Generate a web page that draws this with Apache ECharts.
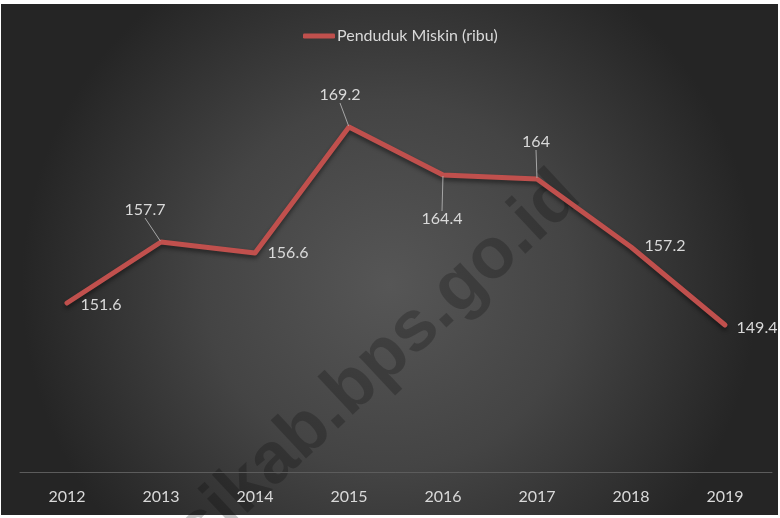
<!DOCTYPE html>
<html>
<head>
<meta charset="utf-8">
<script src="https://cdn.jsdelivr.net/npm/echarts@6/dist/echarts.min.js"></script>
<style>
html,body{margin:0;padding:0;background:#ffffff;}
#chart{width:780px;height:518px;}
</style>
</head>
<body>
<div id="chart"></div>
<script>
// ---- data ----
const years = ['2012','2013','2014','2015','2016','2017','2018','2019'];
const pendudukMiskin = [151.6, 157.7, 156.6, 169.2, 164.4, 164, 157.2, 149.4];
const seriesName = 'Penduduk Miskin (ribu)';
const watermarkText = 'sikab.bps.go.id';

// ---- label placement (style, not data) ----
const labelOffsets = [[34,2],[-16,-32],[33,0],[-9,-32],[-1,44],[-1,-37],[34,-1],[32,3]];
const labelLeader = [false,true,false,true,true,true,false,false];

const FONT = "Lato, sans-serif";
const chart = echarts.init(document.getElementById('chart'), null, {renderer:'canvas'});

const dataItems = pendudukMiskin.map((v,i)=>({
  value: v,
  labelLine: { show: labelLeader[i] }
}));

chart.setOption({
  backgroundColor: '#ffffff',
  animation: false,
  graphic: [
    {
      type: 'rect', z: -10, silent: true,
      shape: { x: 1, y: 4, width: 777, height: 511 },
      style: {
        fill: {
          type: 'radial', x: 0.5, y: 0.55, r: 0.72,
          colorStops: [
            { offset: 0, color: '#565656' },
            { offset: 0.5, color: '#444444' },
            { offset: 1, color: '#252525' }
          ]
        }
      }
    },
    {
      type: 'text', z: -5, silent: true,
      x: 378, y: 364,
      rotation: 43 * Math.PI / 180,
      style: {
        text: watermarkText,
        font: "bold 72px 'Liberation Sans', Arial, sans-serif",
        fill: 'rgba(0,0,0,0.22)',
        align: 'center',
        verticalAlign: 'middle'
      }
    }
  ],
  legend: {
    show: true,
    left: 298,
    top: 23,
    icon: 'roundRect',
    itemWidth: 32,
    itemHeight: 5,
    itemGap: 4,
    textStyle: { color: '#d9d9d9', fontSize: 16, fontFamily: FONT, padding: [0,0,0,-3] },
    data: [seriesName]
  },
  grid: { left: 20, right: 8, top: 19, bottom: 46, containLabel: false },
  xAxis: {
    type: 'category',
    data: years,
    boundaryGap: true,
    axisLine: { show: true, lineStyle: { color: '#5c5c5c', width: 1 } },
    axisTick: { show: false },
    axisLabel: { color: '#d9d9d9', fontSize: 16, fontFamily: FONT, margin: 17 },
    splitLine: { show: false }
  },
  yAxis: {
    type: 'value',
    show: false,
    min: 134.7,
    max: 180,
    splitLine: { show: false }
  },
  series: [{
    type: 'line',
    name: seriesName,
    data: dataItems,
    symbol: 'circle',
    symbolSize: 2,
    showSymbol: true,
    itemStyle: { color: '#c0504d' },
    lineStyle: {
      color: '#c0504d', width: 5, cap: 'round', join: 'round',
      shadowColor: 'rgba(0,0,0,0.45)', shadowBlur: 4, shadowOffsetY: 3
    },
    label: {
      show: true,
      position: 'inside',
      color: '#d9d9d9',
      fontSize: 16,
      fontFamily: FONT
    },
    labelLine: {
      show: true,
      lineStyle: { color: '#a6a6a6', width: 1 }
    },
    labelLayout: function (params) {
      const o = labelOffsets[params.dataIndex];
      return { dx: o[0], dy: o[1] };
    },
    z: 3
  }]
});
</script>
</body>
</html>
